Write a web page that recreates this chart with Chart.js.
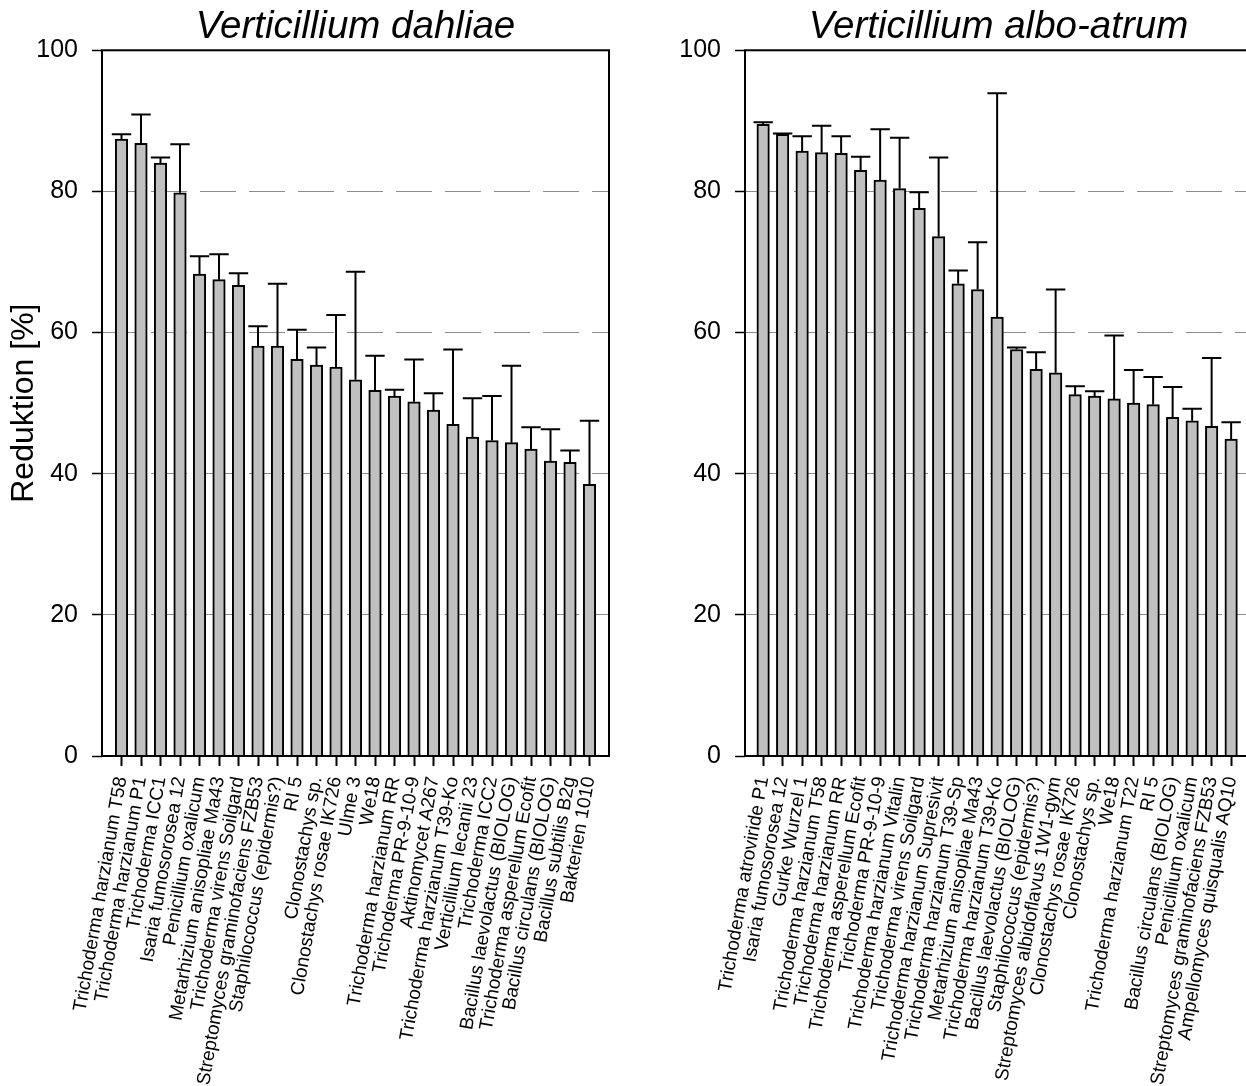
<!DOCTYPE html>
<html>
<head>
<meta charset="utf-8">
<script src="https://cdn.jsdelivr.net/npm/chart.js@4.4.1/dist/chart.umd.min.js"></script>
<style>
  html, body { margin: 0; padding: 0; background: #fff; overflow: hidden; width: 1246px; height: 1086px; }
  canvas { position: absolute; top: 0; }
  #dahliae { left: 0; }
  #alboatrum { left: 624px; }
</style>
</head>
<body>
<canvas id="dahliae" width="624" height="1086"></canvas>
<canvas id="alboatrum" width="646" height="1086"></canvas>
<script>
// Verticillium dahliae: mean reduction [%] and upper error per isolate
const dahliaeIsolates = [
  'Trichoderma harzianum T58', 'Trichoderma harzianum P1', 'Trichoderma ICC1', 'Isaria fumosorosea 12',
  'Penicillium oxalicum', 'Metarhizium anisopliae Ma43', 'Trichoderma virens Soilgard',
  'Streptomyces graminofaciens FZB53', 'Staphilococcus (epidermis?)', 'RI 5', 'Clonostachys sp.',
  'Clonostachys rosae IK726', 'Ulme 3', 'We18', 'Trichoderma harzianum RR', 'Trichoderma PR-9-10-9',
  'Aktinomycet A267', 'Trichoderma harzianum T39-Ko', 'Verticillium lecanii 23', 'Trichoderma ICC2',
  'Bacillus laevolactus (BIOLOG)', 'Trichoderma asperellum Ecofit', 'Bacillus circulans (BIOLOG)',
  'Bacillus subtilis B2g', 'Bakterien 1010'
];
const dahliaeMeans = [87.4, 86.8, 84.0, 79.8, 68.3, 67.5, 66.7, 58.1, 58.1, 56.2, 55.4, 55.1, 53.3,
  51.8, 51.0, 50.2, 49.0, 47.0, 45.2, 44.7, 44.4, 43.5, 41.8, 41.6, 38.5];
const dahliaeErrors = [0.7, 4.1, 0.8, 6.9, 2.5, 3.6, 1.7, 2.8, 8.8, 4.2, 2.5, 7.4, 15.3,
  4.9, 0.9, 6.0, 2.4, 10.6, 5.5, 6.3, 10.9, 3.1, 4.5, 1.7, 9.0];

// Verticillium albo-atrum
const alboIsolates = [
  'Trichoderma atroviride P1', 'Isaria fumosorosea 12', 'Gurke Wurzel 1', 'Trichoderma harzianum T58',
  'Trichoderma harzianum RR', 'Trichoderma asperellum Ecofit', 'Trichoderma PR-9-10-9',
  'Trichoderma harzianum Vitalin', 'Trichoderma virens Soilgard', 'Trichoderma harzianum Supresivit',
  'Trichoderma harzianum T39-Sp', 'Metarhizium anisopliae Ma43', 'Trichoderma harzianum T39-Ko',
  'Bacillus laevolactus (BIOLOG)', 'Staphilococcus (epidermis?)', 'Streptomyces albidoflavus 1W1-gym',
  'Clonostachys rosae IK726', 'Clonostachys sp.', 'We18', 'Trichoderma harzianum T22', 'RI 5',
  'Bacillus circulans (BIOLOG)', 'Penicillium oxalicum', 'Streptomyces graminofaciens FZB53',
  'Ampellomyces quisqualis AQ10'
];
const alboMeans = [89.5, 88.1, 85.7, 85.5, 85.4, 83.0, 81.6, 80.4, 77.6, 73.6, 66.9, 66.1, 62.2,
  57.6, 54.8, 54.3, 51.2, 51.0, 50.6, 50.0, 49.8, 48.0, 47.5, 46.7, 44.9];
const alboErrors = [0.3, 0.1, 2.1, 3.8, 2.4, 1.9, 7.2, 7.2, 2.3, 11.2, 1.9, 6.7, 31.7,
  0.3, 2.4, 11.8, 1.2, 0.7, 9.0, 4.7, 3.9, 4.3, 1.7, 9.7, 2.4];

const yTicks = [0, 20, 40, 60, 80, 100];

const FONT = '"Liberation Sans", Arial, sans-serif';

// upper whiskers with a cap on top of each bar
const errorBars = {
  id: 'errorBars',
  afterDatasetsDraw(chart, args, opts) {
    const { ctx, scales: { x, y } } = chart;
    const means = chart.data.datasets[0].data;
    ctx.save();
    ctx.strokeStyle = '#000';
    ctx.lineWidth = 2;
    means.forEach((p, i) => {
      const px = x.getPixelForValue(p.x);
      const y0 = y.getPixelForValue(p.y);
      const y1 = y.getPixelForValue(p.y + opts.errors[i]);
      ctx.beginPath();
      ctx.moveTo(px, y0);
      ctx.lineTo(px, y1);
      ctx.moveTo(px - 9.7, y1);
      ctx.lineTo(px + 9.7, y1);
      ctx.stroke();
    });
    ctx.restore();
  }
};

// closed frame round the plot area
const frame = {
  id: 'frame',
  afterDraw(chart) {
    const { ctx, chartArea: a } = chart;
    ctx.save();
    ctx.strokeStyle = '#000';
    ctx.lineWidth = 2;
    ctx.strokeRect(a.left, a.top, a.right - a.left, a.bottom - a.top);
    ctx.restore();
  }
};

function buildChart(id, title, isolates, means, errors, cfg) {
  return new Chart(document.getElementById(id), {
    type: 'bar',
    data: {
      datasets: [{
        data: means.map((v, i) => ({ x: i, y: v })),
        backgroundColor: '#c0c0c0',
        borderColor: '#000',
        borderWidth: 2,
        barThickness: 12.5
      }]
    },
    plugins: [errorBars, frame],
    options: {
      responsive: false,
      animation: false,
      layout: { padding: { top: 0, right: cfg.padRight, bottom: 0, left: 0 } },
      plugins: {
        legend: { display: false },
        tooltip: { enabled: false },
        title: {
          display: true,
          text: title,
          fullSize: false,
          color: '#000',
          font: { family: FONT, size: 38.5, style: 'italic', weight: 'normal', lineHeight: 1.15 },
          padding: { top: 5, bottom: 1 }
        },
        errorBars: { errors: errors }
      },
      scales: {
        x: {
          type: 'linear',
          offset: false,
          min: cfg.xMin,
          max: cfg.xMin + 26,
          afterBuildTicks: s => { s.ticks = isolates.map((_, i) => ({ value: i })); },
          afterFit: s => { s.height = 330; },
          grid: { offset: false, drawOnChartArea: false, drawTicks: true, tickLength: 10, tickColor: '#000', tickWidth: 2, tickBorderDash: [] },
          border: { display: false },
          ticks: {
            autoSkip: false,
            minRotation: 80,
            maxRotation: 80,
            padding: 9,
            color: '#000',
            font: { family: FONT, size: 19 },
            callback: v => isolates[v]
          }
        },
        y: {
          min: 0,
          max: 100,
          afterBuildTicks: s => { s.ticks = yTicks.map(v => ({ value: v })); },
          afterFit: s => { s.width = cfg.axisWidth; },
          grid: {
            color: c => (c.tick && c.tick.value > 0 && c.tick.value < 100) ? '#8c8c8c' : 'rgba(0,0,0,0)',
            lineWidth: 1,
            tickLength: 10,
            tickColor: '#000',
            tickWidth: 1.5,
            tickBorderDash: []
          },
          border: { display: false, dash: [36, 13] },
          ticks: { padding: 14, color: '#000', font: { family: FONT, size: 25 } },
          title: {
            display: cfg.showTitle,
            text: 'Reduktion [%]',
            color: '#000',
            font: { family: FONT, size: 32, lineHeight: 1.2 },
            padding: { top: 5, bottom: 0 }
          }
        }
      }
    }
  });
}

buildChart('dahliae', 'Verticillium dahliae', dahliaeIsolates, dahliaeMeans, dahliaeErrors,
  { xMin: -1, axisWidth: 102, padRight: 15, showTitle: true });
buildChart('alboatrum', 'Verticillium albo-atrum', alboIsolates, alboMeans, alboErrors,
  { xMin: -0.93, axisWidth: 121, padRight: 18, showTitle: false });
</script>
</body>
</html>
